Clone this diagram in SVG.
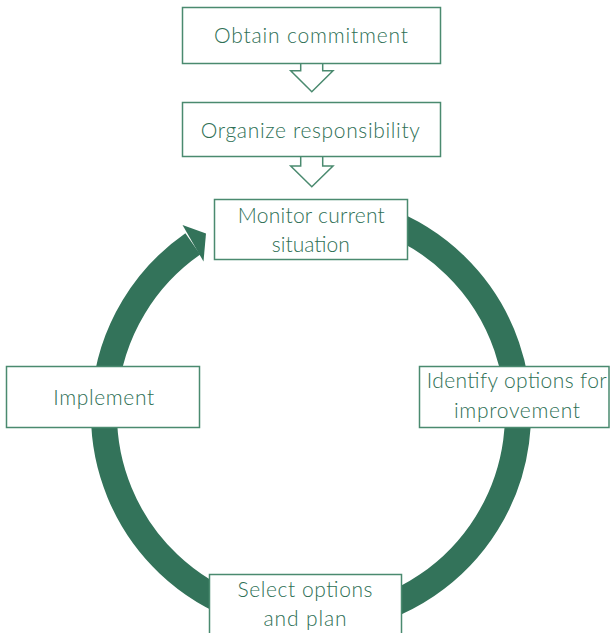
<svg xmlns="http://www.w3.org/2000/svg" width="610" height="633" viewBox="0 0 610 633">
<style>
.box{fill:#fff;stroke:#4a8a6f;stroke-width:1.5}
.harrow{fill:#fff;stroke:#4a8a6f;stroke-width:1.5}
.lbl{font-family:Lato,"Liberation Sans",sans-serif;font-size:21px;font-weight:300;fill:#2e6f55;text-anchor:middle}
.ring{fill:none;stroke:#33735a;stroke-width:26}
</style>
<rect width="610" height="633" fill="#fff"/>
<g id="connectors">
  <path class="ring" d="M382.3,219.5 A207,207 0 1 1 192.8,243.9"/>
  <polygon points="182.5,225 206,233.5 203.5,261.5" fill="#33735a"/>
  <polyline class="harrow" points="300.7,63.3 300.7,70.7 290.7,70.7 311.8,91.7 333,70.7 322.7,70.7 322.7,63.3"/>
  <polyline class="harrow" points="300.7,156.7 300.7,166 290.7,166 311.8,186.7 333,166 322.7,166 322.7,156.7"/>
</g>
<g id="obtain">
  <rect class="box" x="182.5" y="7.5" width="258" height="56"/>
  <text class="lbl" x="311" y="43.3" textLength="194">Obtain commitment</text>
</g>
<g id="organize">
  <rect class="box" x="182.5" y="102.5" width="258" height="54"/>
  <text class="lbl" x="310.3" y="138.3" textLength="219">Organize responsibility</text>
</g>
<g id="monitor">
  <rect class="box" x="214.5" y="199.5" width="193" height="60"/>
  <text class="lbl" x="311.3" y="223.3" textLength="147">Monitor current</text>
  <text class="lbl" x="310.8" y="251.7" textLength="78">situation</text>
</g>
<g id="identify">
  <rect class="box" x="419.5" y="366.5" width="189.5" height="61"/>
  <text class="lbl" x="516.7" y="388.3" textLength="180">Identify options for</text>
  <text class="lbl" x="517" y="418.3" textLength="126">improvement</text>
</g>
<g id="select">
  <rect class="box" x="209.5" y="574.5" width="192" height="70"/>
  <text class="lbl" x="305" y="597.3" textLength="135">Select options</text>
  <text class="lbl" x="305" y="625.7" textLength="83">and plan</text>
</g>
<g id="implement">
  <rect class="box" x="6.5" y="366.5" width="193" height="61"/>
  <text class="lbl" x="103.7" y="405" textLength="101">Implement</text>
</g>
</svg>
